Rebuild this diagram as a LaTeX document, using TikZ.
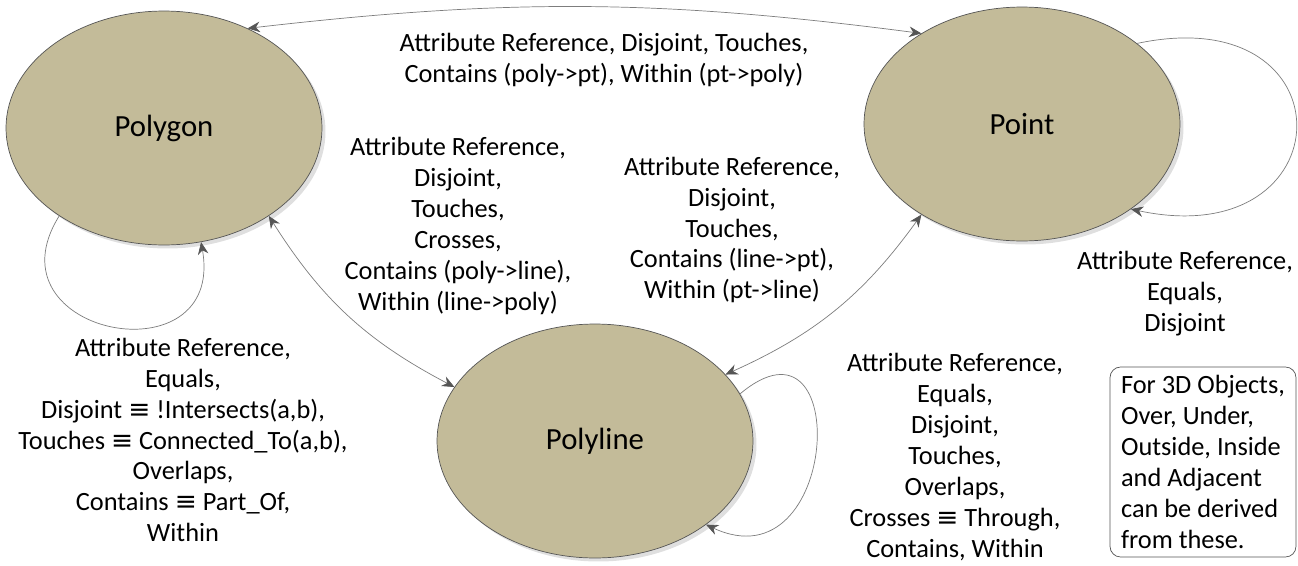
\documentclass[tikz,border=0pt]{standalone}
\usepackage{fontspec}
\setmainfont{Carlito}
\newfontfamily\symfont{DejaVu Sans}
\usetikzlibrary{arrows.meta,shapes.geometric,shadows}
\newcommand{\eqv}{{\symfont\char"2261}}
\definecolor{khaki}{RGB}{195,187,153}
\definecolor{rim}{RGB}{85,85,85}
\definecolor{wire}{RGB}{125,125,125}
\tikzset{
  geom/.style={ellipse, draw=rim, fill=khaki, minimum width=6.32cm, minimum height=4.68cm,
    font=\fontsize{17.5}{21}\selectfont,
    drop shadow={opacity=0.25, shadow xshift=2pt, shadow yshift=-2pt}},
  rel/.style={align=center, inner sep=0pt, font=\fontsize{15}{17.6}\selectfont},
  link/.style={draw=wire, {Stealth[length=7pt, width=6pt, color=rim]}-{Stealth[length=7pt, width=6pt, color=rim]}},
  selfloop/.style={draw=wire, -{Stealth[length=7pt, width=6pt, color=rim]}},
  note/.style={draw=rim, rounded corners=6pt, align=left, inner sep=0pt,
    minimum width=3.72cm, minimum height=3.8cm,
    font=\fontsize{15}{17.6}\selectfont},
}

\begin{document}
\begin{tikzpicture}[x=0.02cm, y=-0.02cm]
  \useasboundingbox (0,0) rectangle (1298,565);

  % Nodes
  \node[geom] (polygon) at (164,128) {Polygon};
  \node[geom] (point) at (1022,124) {Point};
  \node[geom] (polyline) at (595,441) {Polyline};

  % Arrows
  \draw[link] (polygon.50) to[bend left=7] (point.138);
  \draw[link] (polygon.-40) to[bend right=15] (polyline.159);
  \draw[link] (polyline.27) to[bend right=15] (point.222);
  \draw[selfloop] (polygon.220) to[out=238, in=-80, looseness=2.5] (polygon.-72);
  \draw[selfloop] (point.35) to[out=12, in=-12, looseness=3.4] (point.-38);
  \draw[selfloop] (polyline.18) to[out=40, in=-25, looseness=2.8] (polyline.-37);

  % Labels
  \node[rel] (lblgp) at (604,60) {Attribute Reference, Disjoint, Touches,\\Contains (poly->pt), Within (pt->poly)};
  \node[rel] (lblgl) at (458,226) {Attribute Reference,\\Disjoint,\\Touches,\\Crosses,\\Contains (poly->line),\\Within (line->poly)};
  \node[rel] (lbllp) at (732,230) {Attribute Reference,\\Disjoint,\\Touches,\\Contains (line->pt),\\Within (pt->line)};
  \node[rel] (lblpp) at (1185,294) {Attribute Reference,\\Equals,\\Disjoint};
  \node[rel] (lblgg) at (183,440) {Attribute Reference,\\Equals,\\Disjoint \eqv{} !Intersects(a,b),\\Touches \eqv{} Connected\_To(a,b),\\Overlaps,\\Contains \eqv{} Part\_Of,\\Within};
  \node[rel] (lblll) at (955,457) {Attribute Reference,\\Equals,\\Disjoint,\\Touches,\\Overlaps,\\Crosses \eqv{} Through,\\Contains, Within};

  % Note
  \node[note] (derive) at (1203,462) {For 3D Objects,\\Over, Under,\\Outside, Inside\\and Adjacent\\can be derived\\from these.};
\end{tikzpicture}
\end{document}
